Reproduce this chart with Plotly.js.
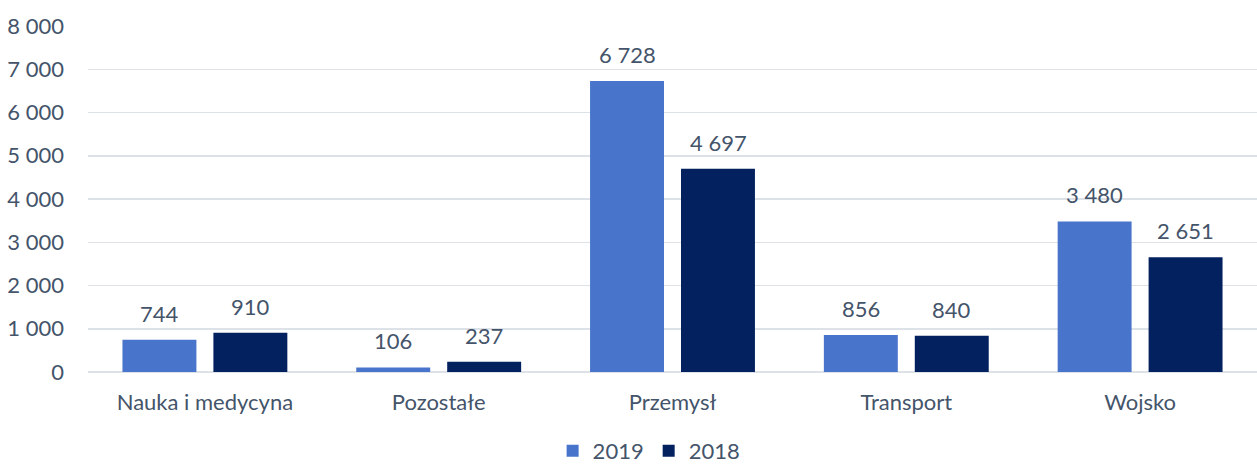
<!DOCTYPE html>
<html><head><meta charset="utf-8">
<script src="https://cdn.plot.ly/plotly-3.0.1.min.js"></script>
<style>html,body{margin:0;padding:0;background:#fff}#chart{width:1257px;height:465px}</style>
</head><body><div id="chart"></div>
<script>
const categories = ["Nauka i medycyna", "Pozostałe", "Przemysł", "Transport", "Wojsko"];
const values2019 = [744, 106, 6728, 856, 3480];
const values2018 = [910, 237, 4697, 840, 2651];
const seriesNames = ["2019", "2018"];
const yTicks = [0, 1000, 2000, 3000, 4000, 5000, 6000, 7000, 8000];

const textColor = "#44546A";
const fontFam = "Lato, sans-serif";
const fs = 22;

const traces = [
  {type: "bar", name: seriesNames[0], x: categories, y: values2019,
   marker: {color: "#4874CB"}, hoverinfo: "y"},
  {type: "bar", name: seriesNames[1], x: categories, y: values2018,
   marker: {color: "#03215E"}, hoverinfo: "y"}
];

function fmt(v){ return String(v).replace(/\B(?=(\d{3})+(?!\d))/g, " "); }
const annotations = [];
[values2019, values2018].forEach((arr, si) => {
  arr.forEach((v, i) => {
    annotations.push({x: categories[i], y: v, xref: "x", yref: "y",
      text: fmt(v), showarrow: false, yanchor: "bottom",
      xshift: si === 0 ? -45.5 : 45.5, yshift: 11,
      font: {family: fontFam, size: fs, color: textColor}});
  });
});

const layout = {
  width: 1257, height: 465,
  margin: {l: 88, r: 0, t: 26, b: 93, autoexpand: false},
  paper_bgcolor: "#fff", plot_bgcolor: "#fff",
  separators: ", ",
  barmode: "group", bargap: 0.222, bargroupgap: 0.187,
  font: {family: fontFam, size: fs, color: textColor},
  xaxis: {showgrid: false, showline: false, ticks: "", ticklabelstandoff: 15,
    tickfont: {size: fs, color: textColor}, automargin: false},
  yaxis: {range: [0, 8000], tickvals: yTicks, tickformat: ",d", showgrid: true,
    gridcolor: "#DDE1E8", gridwidth: 1.5, zeroline: true, zerolinecolor: "#DDE1E8", zerolinewidth: 1.5,
    showline: false, ticks: "", ticklabelstandoff: 23, tickfont: {size: fs, color: textColor}, automargin: false},
  showlegend: true,
  legend: {orientation: "h", x: 0.48, xanchor: "center", y: -0.228, yanchor: "middle",
    font: {size: fs, color: textColor}, traceorder: "normal", itemwidth: 30},
  annotations: annotations
};

Plotly.newPlot("chart", traces, layout, {displayModeBar: false, staticPlot: true});
</script></body></html>
